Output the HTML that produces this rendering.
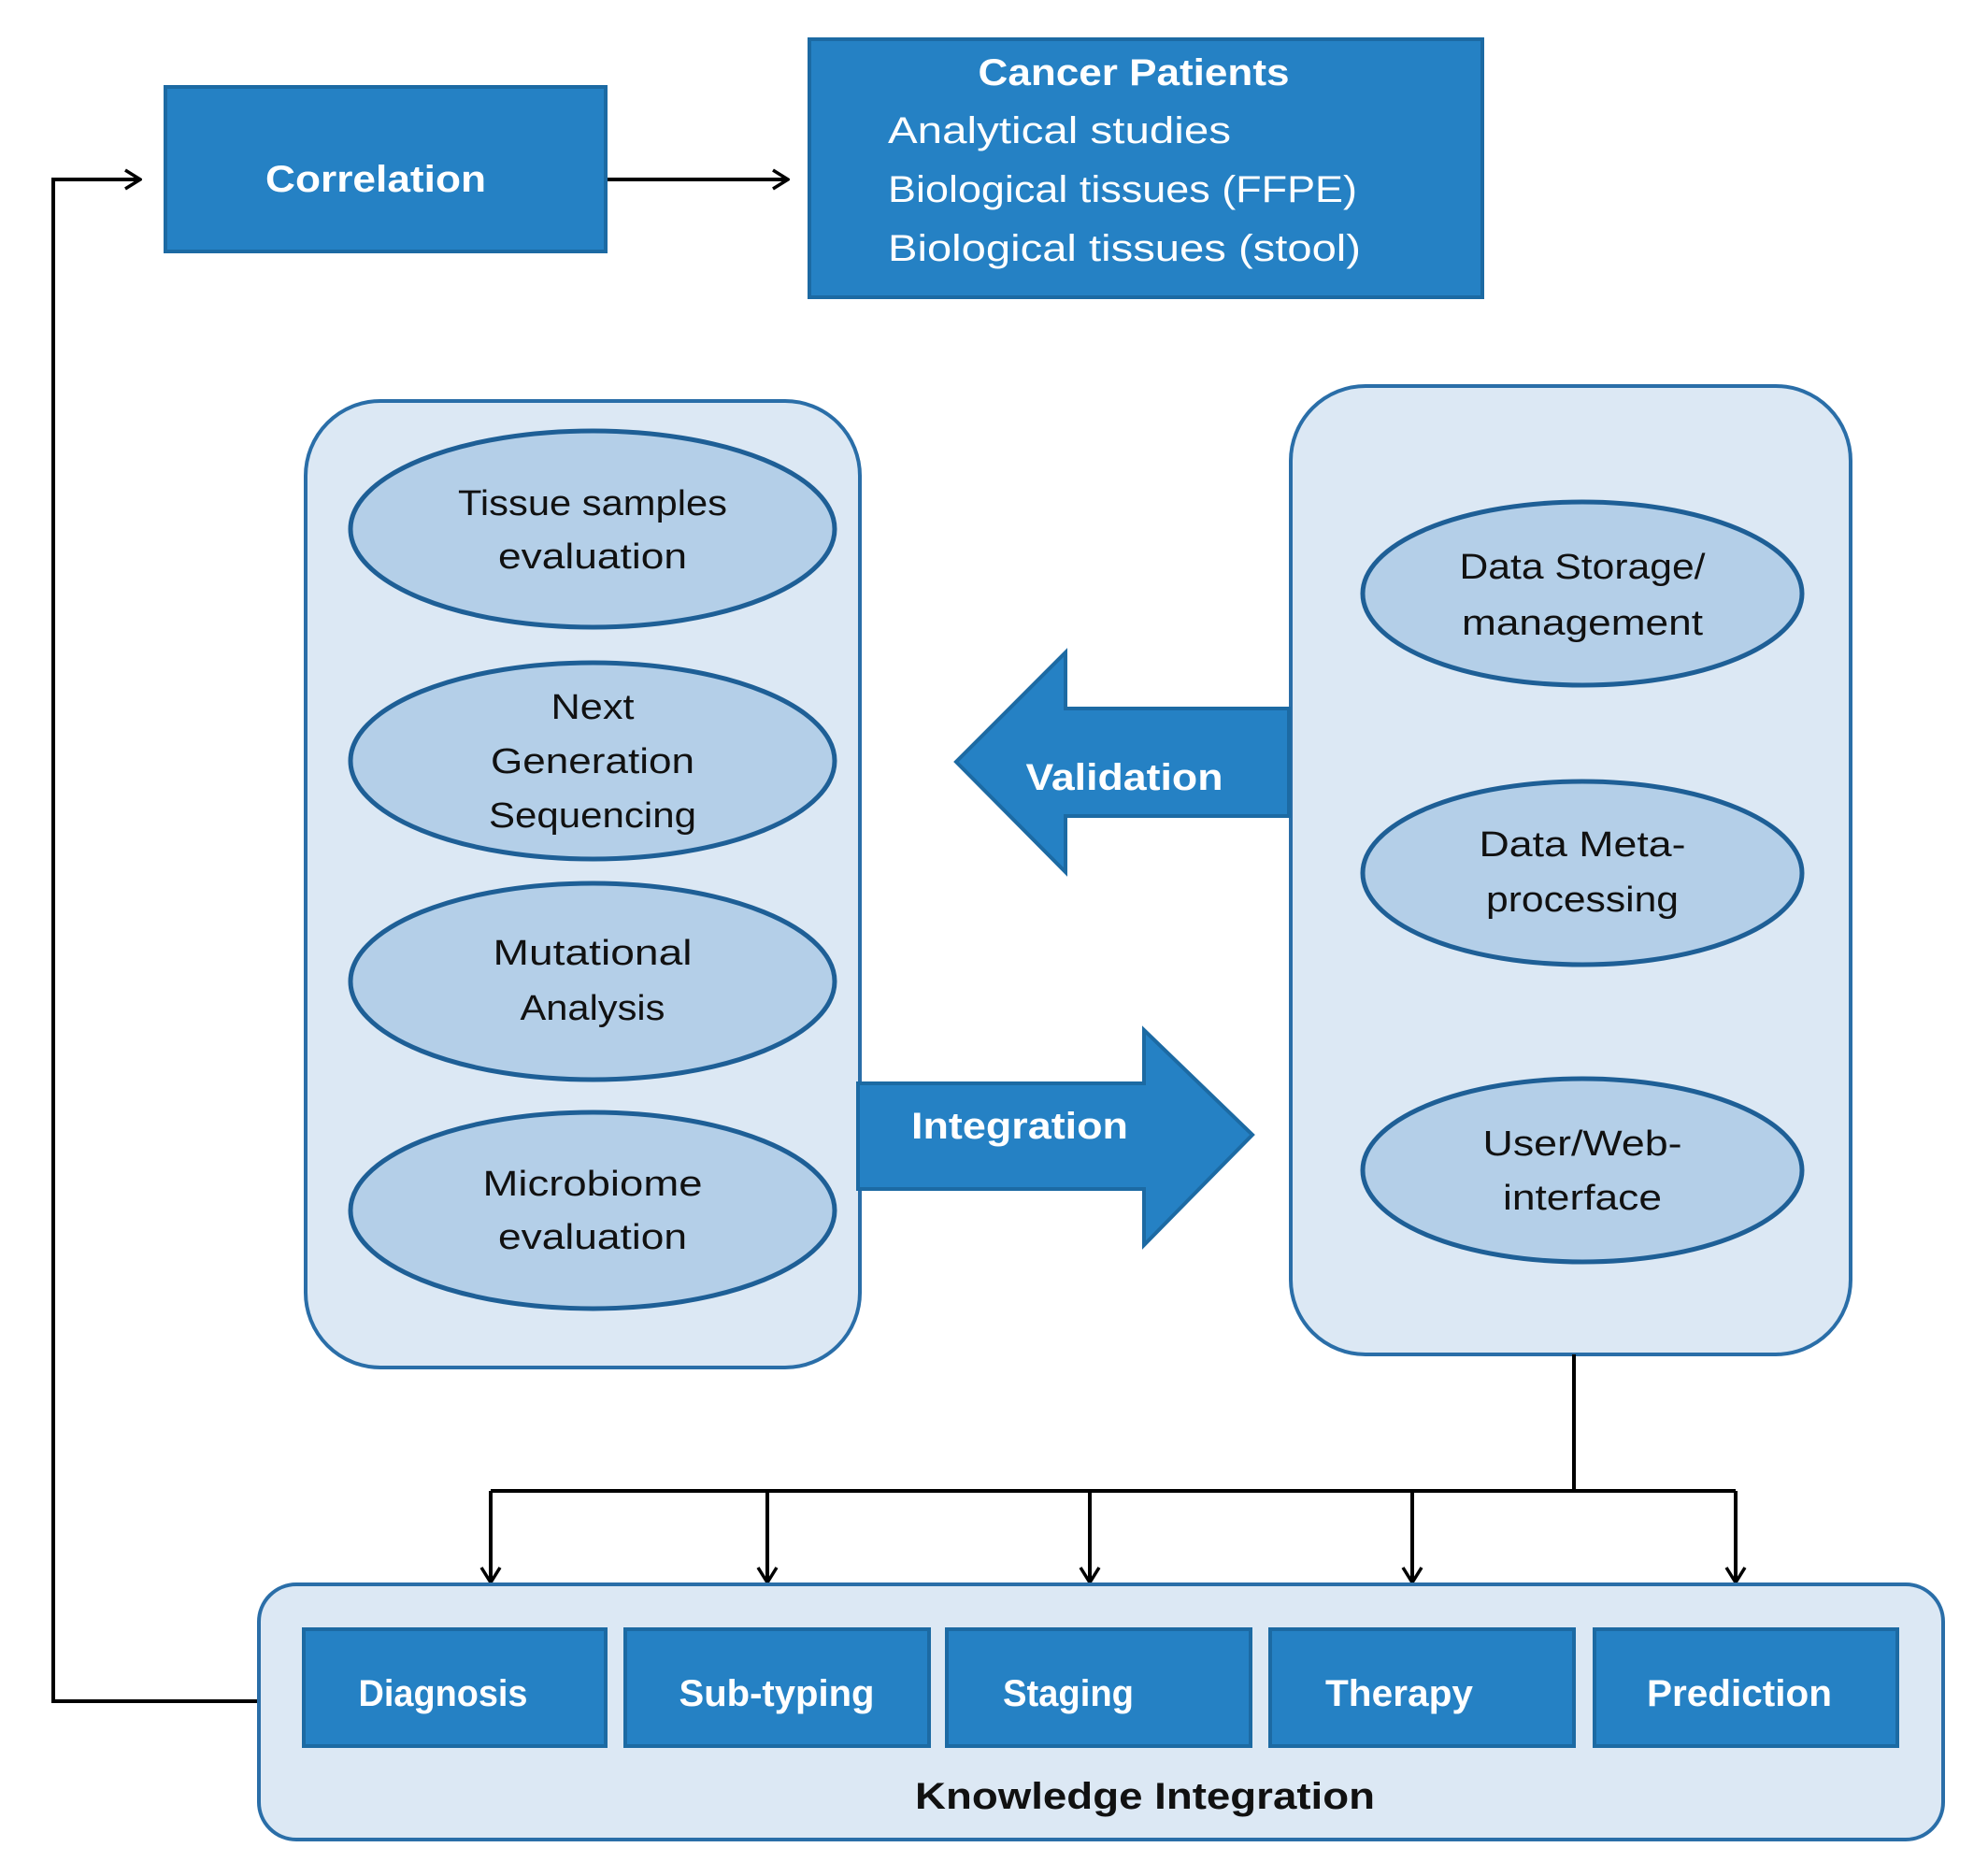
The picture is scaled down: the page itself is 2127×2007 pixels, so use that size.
<!DOCTYPE html>
<html><head><meta charset="utf-8"><style>
html,body{margin:0;padding:0;background:#fff}
svg{display:block}
text{font-family:"Liberation Sans",sans-serif;font-weight:bold}
.w{fill:#fff;font-size:40px}
.k{fill:#111;font-size:38px;font-weight:normal}
</style></head><body>
<svg width="2127" height="2007" viewBox="0 0 2127 2007" xmlns="http://www.w3.org/2000/svg">
<defs>
<marker id="a" markerWidth="20" markerHeight="24" refX="18" refY="12" orient="auto" markerUnits="userSpaceOnUse">
<path d="M2,2 L18,12 L2,22" fill="none" stroke="#000" stroke-width="3.5"/>
</marker>
</defs>
<!-- feedback line -->
<polyline points="277,1820 57,1820 57,192 150,192" fill="none" stroke="#000" stroke-width="4" marker-end="url(#a)"/>
<line x1="648" y1="192" x2="843" y2="192" stroke="#000" stroke-width="4" marker-end="url(#a)"/>
<!-- Correlation -->
<rect x="177" y="93" width="471" height="176" fill="#2581c4" stroke="#1c6aa3" stroke-width="4"/>
<text class="w" x="402" y="192" text-anchor="middle" dominant-baseline="central" textLength="236" lengthAdjust="spacingAndGlyphs">Correlation</text>
<!-- Cancer patients -->
<rect x="866" y="42" width="720" height="276" fill="#2581c4" stroke="#1c6aa3" stroke-width="4"/>
<text class="w" x="1213" y="78" text-anchor="middle" dominant-baseline="central" textLength="333" lengthAdjust="spacingAndGlyphs">Cancer Patients</text>
<text class="w" x="950" y="140" dominant-baseline="central" textLength="367" lengthAdjust="spacingAndGlyphs" style="font-weight:normal">Analytical studies</text>
<text class="w" x="950" y="203" dominant-baseline="central" textLength="502" lengthAdjust="spacingAndGlyphs" style="font-weight:normal">Biological tissues (FFPE)</text>
<text class="w" x="950" y="266" dominant-baseline="central" textLength="506" lengthAdjust="spacingAndGlyphs" style="font-weight:normal">Biological tissues (stool)</text>
<!-- containers -->
<rect x="327" y="429" width="593" height="1034" rx="80" fill="#dce8f4" stroke="#2a6ea8" stroke-width="4"/>
<rect x="1381" y="413" width="599" height="1036" rx="80" fill="#dce8f4" stroke="#2a6ea8" stroke-width="4"/>
<g fill="#b4cfe8" stroke="#1e5f96" stroke-width="5">
<ellipse cx="634" cy="566" rx="259" ry="105"/>
<ellipse cx="634" cy="814" rx="259" ry="105"/>
<ellipse cx="634" cy="1050" rx="259" ry="105"/>
<ellipse cx="634" cy="1295" rx="259" ry="105"/>
<ellipse cx="1693" cy="635" rx="235" ry="98"/>
<ellipse cx="1693" cy="934" rx="235" ry="98"/>
<ellipse cx="1693" cy="1252" rx="235" ry="98"/>
</g>
<g class="k" text-anchor="middle" dominant-baseline="central">
<text class="k" x="634" y="539" text-anchor="middle" dominant-baseline="central" textLength="288" lengthAdjust="spacingAndGlyphs">Tissue samples</text>
<text class="k" x="634" y="596" text-anchor="middle" dominant-baseline="central" textLength="202" lengthAdjust="spacingAndGlyphs">evaluation</text>
<text class="k" x="634" y="757" text-anchor="middle" dominant-baseline="central" textLength="89" lengthAdjust="spacingAndGlyphs">Next</text>
<text class="k" x="634" y="815" text-anchor="middle" dominant-baseline="central" textLength="218" lengthAdjust="spacingAndGlyphs">Generation</text>
<text class="k" x="634" y="873" text-anchor="middle" dominant-baseline="central" textLength="222" lengthAdjust="spacingAndGlyphs">Sequencing</text>
<text class="k" x="634" y="1020" text-anchor="middle" dominant-baseline="central" textLength="213" lengthAdjust="spacingAndGlyphs">Mutational</text>
<text class="k" x="634" y="1079" text-anchor="middle" dominant-baseline="central" textLength="155" lengthAdjust="spacingAndGlyphs">Analysis</text>
<text class="k" x="634" y="1267" text-anchor="middle" dominant-baseline="central" textLength="235" lengthAdjust="spacingAndGlyphs">Microbiome</text>
<text class="k" x="634" y="1324" text-anchor="middle" dominant-baseline="central" textLength="202" lengthAdjust="spacingAndGlyphs">evaluation</text>
<text class="k" x="1693" y="607" text-anchor="middle" dominant-baseline="central" textLength="263" lengthAdjust="spacingAndGlyphs">Data Storage/</text>
<text class="k" x="1693" y="667" text-anchor="middle" dominant-baseline="central" textLength="258" lengthAdjust="spacingAndGlyphs">management</text>
<text class="k" x="1693" y="904" text-anchor="middle" dominant-baseline="central" textLength="221" lengthAdjust="spacingAndGlyphs">Data Meta-</text>
<text class="k" x="1693" y="963" text-anchor="middle" dominant-baseline="central" textLength="206" lengthAdjust="spacingAndGlyphs">processing</text>
<text class="k" x="1693" y="1224" text-anchor="middle" dominant-baseline="central" textLength="213" lengthAdjust="spacingAndGlyphs">User/Web-</text>
<text class="k" x="1693" y="1282" text-anchor="middle" dominant-baseline="central" textLength="170" lengthAdjust="spacingAndGlyphs">interface</text>
</g>
<!-- Validation arrow -->
<polygon points="1379,758 1140,758 1140,698 1023,815 1140,933 1140,873 1379,873" fill="#2581c4" stroke="#1c6aa3" stroke-width="4"/>
<text class="w" x="1203" y="832" text-anchor="middle" dominant-baseline="central" textLength="211" lengthAdjust="spacingAndGlyphs">Validation</text>
<!-- Integration arrow -->
<polygon points="918,1159 1224,1159 1224,1102 1340,1214 1224,1332 1224,1272 918,1272" fill="#2581c4" stroke="#1c6aa3" stroke-width="4"/>
<text class="w" x="1091" y="1205" text-anchor="middle" dominant-baseline="central" textLength="232" lengthAdjust="spacingAndGlyphs">Integration</text>
<!-- connectors -->
<g stroke="#000" stroke-width="4" fill="none">
<line x1="1684" y1="1449" x2="1684" y2="1595"/>
<line x1="525" y1="1595" x2="1857" y2="1595"/>
<line x1="525" y1="1595" x2="525" y2="1693" marker-end="url(#a)"/>
<line x1="821" y1="1595" x2="821" y2="1693" marker-end="url(#a)"/>
<line x1="1166" y1="1595" x2="1166" y2="1693" marker-end="url(#a)"/>
<line x1="1511" y1="1595" x2="1511" y2="1693" marker-end="url(#a)"/>
<line x1="1857" y1="1595" x2="1857" y2="1693" marker-end="url(#a)"/>
</g>
<!-- bottom container -->
<rect x="277" y="1695" width="1802" height="273" rx="40" fill="#dce8f4" stroke="#2a6ea8" stroke-width="4"/>
<g fill="#2581c4" stroke="#1c6aa3" stroke-width="4">
<rect x="325" y="1743" width="323" height="125"/>
<rect x="669" y="1743" width="325" height="125"/>
<rect x="1013" y="1743" width="325" height="125"/>
<rect x="1359" y="1743" width="325" height="125"/>
<rect x="1706" y="1743" width="324" height="125"/>
</g>
<text class="w" x="474" y="1812" text-anchor="middle" dominant-baseline="central" textLength="181" lengthAdjust="spacingAndGlyphs">Diagnosis</text>
<text class="w" x="831" y="1812" text-anchor="middle" dominant-baseline="central" textLength="209" lengthAdjust="spacingAndGlyphs">Sub-typing</text>
<text class="w" x="1143" y="1812" text-anchor="middle" dominant-baseline="central" textLength="140" lengthAdjust="spacingAndGlyphs">Staging</text>
<text class="w" x="1497" y="1812" text-anchor="middle" dominant-baseline="central" textLength="158" lengthAdjust="spacingAndGlyphs">Therapy</text>
<text class="w" x="1861" y="1812" text-anchor="middle" dominant-baseline="central" textLength="198" lengthAdjust="spacingAndGlyphs">Prediction</text>
<text x="1225" y="1922" text-anchor="middle" dominant-baseline="central" textLength="492" lengthAdjust="spacingAndGlyphs" style="font-size:40px;fill:#111">Knowledge Integration</text>
</svg>
</body></html>
